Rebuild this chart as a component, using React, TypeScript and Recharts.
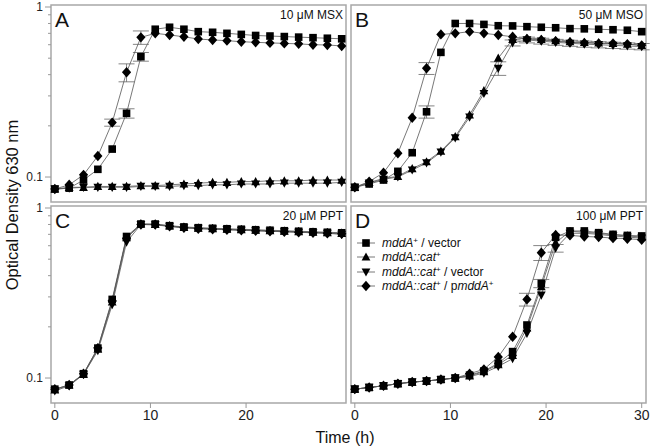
import React from "react";
import { LineChart, Line, XAxis, YAxis, ErrorBar, ReferenceArea } from "recharts";

const FONT = '"Liberation Sans", Arial, sans-serif';

// sampling times (h)
const TIME = [0, 1.5, 3, 4.5, 6, 7.5, 9, 10.5, 12, 13.5, 15, 16.5, 18, 19.5, 21, 22.5, 24, 25.5, 27, 28.5, 30];

// A - 10 uM MSX
const A_SQ = [0.085, 0.086, 0.096, 0.111, 0.146, 0.237, 0.51, 0.74, 0.76, 0.74, 0.716, 0.71, 0.7, 0.69, 0.68, 0.675, 0.67, 0.665, 0.66, 0.655, 0.65];
const A_UP = [0.085, 0.087, 0.087, 0.088, 0.088, 0.088, 0.089, 0.089, 0.09, 0.091, 0.092, 0.093, 0.093, 0.094, 0.094, 0.095, 0.095, 0.095, 0.096, 0.096, 0.096];
const A_DN = [0.085, 0.086, 0.087, 0.087, 0.087, 0.087, 0.088, 0.088, 0.088, 0.089, 0.089, 0.09, 0.09, 0.091, 0.091, 0.091, 0.092, 0.092, 0.092, 0.092, 0.093];
const A_DI = [0.085, 0.09, 0.103, 0.133, 0.209, 0.413, 0.663, 0.7, 0.685, 0.668, 0.648, 0.64, 0.634, 0.625, 0.62, 0.615, 0.611, 0.607, 0.6, 0.598, 0.59];
const A_SQ_ERR = [0, 0, 0, 0, 0, 0.015, 0.03, 0, 0, 0, 0, 0, 0, 0, 0, 0, 0, 0, 0, 0, 0];
const A_DI_ERR = [0, 0, 0, 0, 0.01, 0.05, 0.06, 0, 0, 0, 0, 0, 0, 0, 0, 0, 0, 0, 0, 0, 0];

// B - 50 uM MSO
const B_SQ = [0.087, 0.091, 0.096, 0.108, 0.139, 0.242, 0.541, 0.8, 0.8, 0.79, 0.776, 0.774, 0.766, 0.76, 0.755, 0.746, 0.744, 0.74, 0.735, 0.73, 0.716];
const B_UP = [0.087, 0.093, 0.098, 0.101, 0.112, 0.123, 0.142, 0.173, 0.232, 0.322, 0.5, 0.645, 0.655, 0.645, 0.635, 0.625, 0.62, 0.615, 0.61, 0.605, 0.595];
const B_DN = [0.087, 0.092, 0.097, 0.1, 0.11, 0.121, 0.14, 0.17, 0.225, 0.31, 0.436, 0.615, 0.64, 0.63, 0.62, 0.612, 0.605, 0.6, 0.595, 0.59, 0.585];
const B_DI = [0.087, 0.094, 0.106, 0.138, 0.223, 0.436, 0.69, 0.7, 0.716, 0.7, 0.685, 0.668, 0.648, 0.64, 0.63, 0.62, 0.615, 0.61, 0.61, 0.605, 0.595];
const B_SQ_ERR = [0, 0, 0, 0, 0, 0.02, 0, 0, 0, 0, 0, 0, 0, 0, 0, 0, 0, 0, 0, 0, 0];
const B_DN_ERR = [0, 0, 0, 0, 0, 0, 0, 0, 0, 0, 0.04, 0.025, 0.025, 0.025, 0.025, 0.025, 0.025, 0.025, 0.025, 0.025, 0.025];
const B_DI_ERR = [0, 0, 0, 0, 0, 0.035, 0, 0, 0, 0, 0, 0, 0, 0, 0, 0, 0, 0, 0, 0, 0];

// C - 20 uM PPT
const C_SQ = [0.086, 0.091, 0.106, 0.15, 0.29, 0.68, 0.805, 0.805, 0.787, 0.774, 0.766, 0.76, 0.755, 0.75, 0.745, 0.74, 0.735, 0.73, 0.725, 0.72, 0.715];
const C_UP = [0.085, 0.091, 0.105, 0.148, 0.28, 0.67, 0.805, 0.8, 0.785, 0.77, 0.762, 0.756, 0.75, 0.745, 0.74, 0.735, 0.73, 0.725, 0.72, 0.715, 0.71];
const C_DN = [0.084, 0.09, 0.105, 0.145, 0.27, 0.63, 0.8, 0.795, 0.78, 0.765, 0.758, 0.752, 0.746, 0.74, 0.735, 0.73, 0.725, 0.72, 0.715, 0.71, 0.7];
const C_DI = [0.086, 0.091, 0.106, 0.15, 0.285, 0.665, 0.8, 0.8, 0.78, 0.765, 0.755, 0.75, 0.745, 0.74, 0.735, 0.73, 0.725, 0.72, 0.715, 0.71, 0.705];

// D - 100 uM PPT
const D_SQ = [0.086, 0.088, 0.09, 0.0926, 0.0947, 0.096, 0.098, 0.1, 0.104, 0.11, 0.122, 0.143, 0.205, 0.36, 0.672, 0.733, 0.733, 0.716, 0.7, 0.69, 0.685];
const D_UP = [0.086, 0.088, 0.09, 0.0926, 0.0947, 0.096, 0.098, 0.1, 0.103, 0.109, 0.12, 0.136, 0.197, 0.345, 0.625, 0.73, 0.72, 0.71, 0.695, 0.685, 0.675];
const D_DN = [0.086, 0.088, 0.09, 0.0926, 0.0947, 0.096, 0.098, 0.1, 0.102, 0.107, 0.117, 0.13, 0.183, 0.307, 0.58, 0.71, 0.71, 0.7, 0.685, 0.675, 0.665];
const D_DI = [0.086, 0.088, 0.09, 0.0926, 0.0947, 0.096, 0.098, 0.1, 0.106, 0.1125, 0.133, 0.175, 0.29, 0.546, 0.694, 0.69, 0.68, 0.675, 0.665, 0.66, 0.65];
const D_SQ_ERR = [0, 0, 0, 0, 0, 0, 0, 0, 0, 0, 0, 0, 0, 0.02, 0, 0, 0, 0, 0, 0, 0];
const D_DN_ERR = [0, 0, 0, 0, 0, 0, 0, 0, 0, 0, 0, 0, 0, 0, 0.03, 0, 0, 0, 0, 0, 0];
const D_DI_ERR = [0, 0, 0, 0, 0, 0, 0, 0, 0, 0, 0, 0, 0.025, 0.055, 0, 0, 0, 0, 0, 0, 0];

const NO_ERR = TIME.map(() => 0);

const Y_TICKS = [0.1, 0.2, 0.3, 0.4, 0.5, 0.6, 0.7, 0.8, 0.9, 1];
const X_DOMAIN = [-0.4, 30.45];
const Y_DOMAIN = [0.0713, 1.0275];

const buildRows = (sq, up, dn, di, sqE = NO_ERR, upE = NO_ERR, dnE = NO_ERR, diE = NO_ERR) =>
  TIME.map((t, i) => ({
    t,
    sq: sq[i], up: up[i], dn: dn[i], di: di[i],
    sqE: sqE[i], upE: upE[i], dnE: dnE[i], diE: diE[i],
  }));

const Marker = ({ cx, cy, shape }) => {
  if (cx == null || cy == null) return null;
  if (shape === "sq") return <rect x={cx - 3.8} y={cy - 3.8} width={7.6} height={7.6} fill="#000" />;
  if (shape === "di") return <path d={`M${cx},${cy - 5.2}L${cx + 4.6},${cy}L${cx},${cy + 5.2}L${cx - 4.6},${cy}Z`} fill="#000" />;
  if (shape === "up") return <path d={`M${cx},${cy - 4.6}L${cx + 4.4},${cy + 3.6}L${cx - 4.4},${cy + 3.6}Z`} fill="#000" />;
  return <path d={`M${cx},${cy + 4.6}L${cx + 4.4},${cy - 3.6}L${cx - 4.4},${cy - 3.6}Z`} fill="#000" />;
};

const Sup = ({ children }) => (
  <span style={{ fontSize: 8, position: "relative", top: -4, fontStyle: "normal" }}>{children}</span>
);

// drawing order: triangles first, square and diamond on top
const SERIES = [
  { key: "up", label: <><i>mddA::cat</i><Sup>+</Sup></> },
  { key: "dn", label: <><i>mddA::cat</i><Sup>+</Sup> / vector</> },
  { key: "sq", label: <><i>mddA</i><Sup>+</Sup> / vector</> },
  { key: "di", label: <><i>mddA::cat</i><Sup>+</Sup> / p<i>mddA</i><Sup>+</Sup></> },
];
const LEGEND_ORDER = ["sq", "up", "dn", "di"];

const YTick = (props) => {
  const { x, y, payload } = props;
  const v = payload.value;
  const major = Math.abs(v - 0.1) < 1e-9 || Math.abs(v - 1) < 1e-9;
  return (
    <g>
      <line x1={x - (major ? 6 : 3)} x2={x} y1={y} y2={y} stroke="#999" strokeWidth={1} />
      {major && (
        <text x={x - 8} y={y} dy={4} textAnchor="end" fontSize={12} fontFamily={FONT} fill="#222">
          {v > 0.5 ? "1" : "0.1"}
        </text>
      )}
    </g>
  );
};

const Panel = ({ data, left, top, width, height, margin, showY, xTicks, letter, cond }) => (
  <div style={{ position: "absolute", left, top, width, height }}>
    <LineChart width={width} height={height} data={data} margin={margin}>
      <XAxis
        dataKey="t"
        type="number"
        domain={X_DOMAIN}
        ticks={xTicks || [0, 10, 20, 30]}
        hide={!xTicks}
        height={30}
        tickSize={5}
        tickMargin={2}
        axisLine={false}
        tickLine={{ stroke: "#999" }}
        tick={{ fontSize: 14, fill: "#222", fontFamily: FONT }}
        interval={0}
      />
      <YAxis
        type="number"
        scale="log"
        domain={Y_DOMAIN}
        ticks={Y_TICKS}
        hide={!showY}
        width={51}
        axisLine={false}
        tickLine={false}
        tickSize={0}
        tickMargin={0}
        tick={<YTick />}
        interval={0}
        allowDataOverflow
      />
      <ReferenceArea
        x1={X_DOMAIN[0]}
        x2={X_DOMAIN[1]}
        y1={Y_DOMAIN[0]}
        y2={Y_DOMAIN[1]}
        fill="none"
        stroke="#a8a8a8"
        strokeWidth={1.5}
        ifOverflow="visible"
      />
      {SERIES.map((s) => (
        <Line
          key={s.key}
          dataKey={s.key}
          type="linear"
          stroke="#555"
          strokeWidth={0.8}
          isAnimationActive={false}
          activeDot={false}
          dot={(p) => <Marker key={`${s.key}-${p.index}`} cx={p.cx} cy={p.cy} shape={s.key} />}
        >
          <ErrorBar dataKey={`${s.key}E`} width={8} stroke="#666" strokeWidth={0.8} direction="y" />
        </Line>
      ))}
    </LineChart>
    <div
      style={{
        position: "absolute",
        left: margin.left + (showY ? 55 : 4),
        top: margin.top + 4,
        fontSize: 21,
        lineHeight: "21px",
        fontFamily: FONT,
        color: "#111",
      }}
    >
      {letter}
    </div>
    <div
      style={{
        position: "absolute",
        right: margin.right + 3,
        top: margin.top + 4,
        fontSize: 12,
        lineHeight: "12px",
        fontFamily: FONT,
        color: "#111",
      }}
    >
      {cond}
    </div>
  </div>
);

const Legend = () => (
  <div style={{ position: "absolute", left: 356, top: 236, fontFamily: FONT, fontSize: 12, color: "#111" }}>
    {LEGEND_ORDER.map((k) => {
      const s = SERIES.find((x) => x.key === k);
      return (
        <div key={k} style={{ display: "flex", alignItems: "center", height: 14.3, whiteSpace: "nowrap" }}>
          <svg width={20} height={12}>
            <line x1={1} x2={19} y1={6} y2={6} stroke="#555" strokeWidth={0.8} />
            <Marker cx={10} cy={6} shape={k} />
          </svg>
          <span style={{ marginLeft: 6 }}>{s.label}</span>
        </div>
      );
    })}
  </div>
);

const App = () => {
  const dataA = buildRows(A_SQ, A_UP, A_DN, A_DI, A_SQ_ERR, NO_ERR, NO_ERR, A_DI_ERR);
  const dataB = buildRows(B_SQ, B_UP, B_DN, B_DI, B_SQ_ERR, NO_ERR, B_DN_ERR, B_DI_ERR);
  const dataC = buildRows(C_SQ, C_UP, C_DN, C_DI);
  const dataD = buildRows(D_SQ, D_UP, D_DN, D_DI, D_SQ_ERR, NO_ERR, D_DN_ERR, D_DI_ERR);

  return (
    <div style={{ position: "absolute", left: 0, top: 0, width: 650, height: 448, background: "#fff", overflow: "hidden" }}>
      <Panel data={dataA} left={0} top={0} width={350} height={205}
        margin={{ top: 5, right: 4, bottom: 3, left: 0 }} showY letter="A" cond="10 μM MSX" />
      <Panel data={dataB} left={350} top={0} width={300} height={205}
        margin={{ top: 5, right: 4, bottom: 3, left: 1 }} letter="B" cond="50 μM MSO" />
      <Panel data={dataC} left={0} top={201} width={350} height={240}
        margin={{ top: 5, right: 4, bottom: 8, left: 0 }} showY xTicks={[0, 10, 20]} letter="C" cond="20 μM PPT" />
      <Panel data={dataD} left={350} top={201} width={300} height={240}
        margin={{ top: 5, right: 4, bottom: 8, left: 1 }} xTicks={[0, 10, 20, 30]} letter="D" cond="100 μM PPT" />
      <Legend />
      <div
        style={{
          position: "absolute",
          left: 12 - 150,
          top: 205 - 8,
          width: 300,
          height: 16,
          lineHeight: "16px",
          fontSize: 16.5,
          fontFamily: FONT,
          textAlign: "center",
          transform: "rotate(-90deg)",
          color: "#111",
        }}
      >
        Optical Density 630 nm
      </div>
      <div
        style={{
          position: "absolute",
          left: 245,
          top: 430,
          width: 200,
          lineHeight: "16px",
          fontSize: 16,
          fontFamily: FONT,
          textAlign: "center",
          color: "#111",
        }}
      >
        Time (h)
      </div>
    </div>
  );
};

export default App;
